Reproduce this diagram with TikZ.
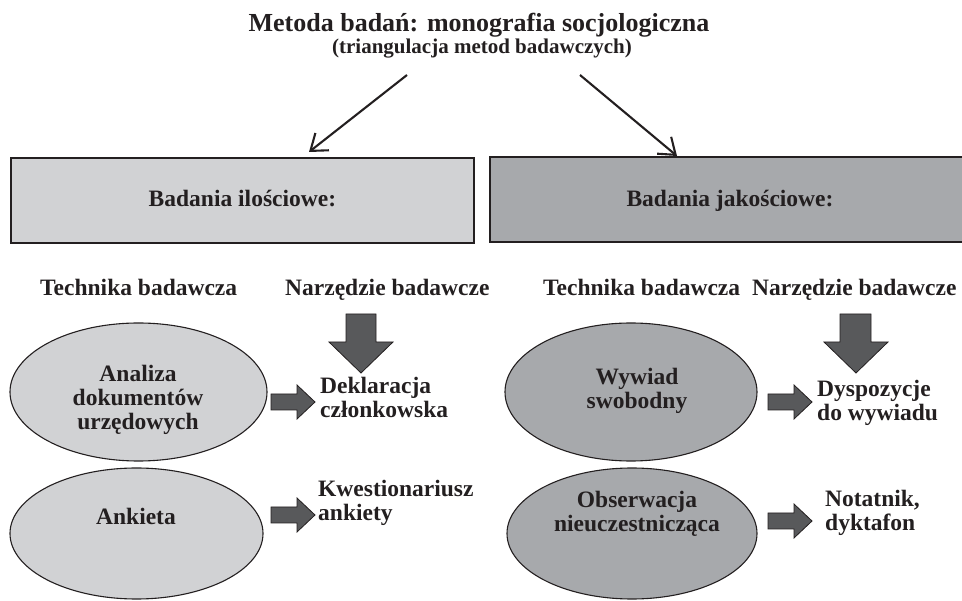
\documentclass[tikz,border=0pt]{standalone}
\usepackage{fontspec}
\setmainfont{Liberation Serif}
\usetikzlibrary{shapes.geometric,shapes.arrows,arrows.meta}
\definecolor{lightbox}{HTML}{D1D2D4}
\definecolor{darkbox}{HTML}{A7A9AC}
\definecolor{blockfill}{HTML}{58595B}
\definecolor{inkc}{HTML}{231F20}
\tikzset{
  txt/.style={font=\fontsize{23.5}{24}\selectfont\bfseries, text=inkc, inner sep=0pt},
  mbox/.style={draw=inkc, line width=1.8pt, anchor=north west, inner sep=0pt},
  ell/.style={ellipse, draw=inkc, line width=1.1pt, inner sep=0pt},
  thin arrow/.style={draw=inkc, line width=2.1pt, -{Straight Barb[length=15pt,width=22pt,line width=2.1pt]}},
  rblock/.style={fill=blockfill, draw=inkc, line width=0.8pt},
}
\begin{document}
\begin{tikzpicture}[x=1pt,y=-1pt]
\useasboundingbox (0,0) rectangle (962,601);
% title
\node[txt, font=\fontsize{26}{28}\selectfont\bfseries, anchor=base] (title) at (479,32) {Metoda badań: monografia socjologiczna};
\node[txt, font=\fontsize{21}{24}\selectfont\bfseries, anchor=base] (sub) at (482,54) {(triangulacja metod badawczych)};
\coordinate (la) at (407,75);
\coordinate (ra) at (580,75);
% boxes
\node[mbox, fill=lightbox, minimum width=463pt, minimum height=85pt] (qbox) at (10,157) {};
\node[txt, anchor=base] (qtxt) at (qbox.center |- 0,207) {Badania ilościowe:};
\fill[darkbox] (490,157) rectangle (962,242);
\draw[inkc, line width=1.8pt] (963,157) -- (490,157) -- (490,242) -- (963,242);
\coordinate (jbox) at (677,156);
\node[txt, anchor=base] (jtxt) at (730,207) {Badania jakościowe:};
\draw[thin arrow] (la) -- (309,152);
\draw[thin arrow] (ra) -- (jbox);
% column headers
\node[txt, anchor=base west] (tech1) at (40,296) {Technika badawcza};
\node[txt, anchor=base west] (narz1) at (285,296) {Narzędzie badawcze};
\node[txt, anchor=base west] (tech2) at (543,296) {Technika badawcza};
\node[txt, anchor=base west] (narz2) at (752,296) {Narzędzie badawcze};
% big down arrows
\draw[rblock] (346,314) -- (376,314) -- (376,342) -- (393,342) -- (361,373) -- (329,342) -- (346,342) -- cycle;
\draw[rblock] (840,314) -- (871,314) -- (871,342) -- (888,342) -- (856,373) -- (824,342) -- (840,342) -- cycle;
% ellipses
\node[ell, fill=lightbox, minimum width=257pt, minimum height=138pt] (e1) at (138.5,392) {};
\node[txt, align=center] (e1t) at (138,400) {Analiza\\dokumentów\\urzędowych};
\node[ell, fill=lightbox, minimum width=253pt, minimum height=131pt] (e2) at (136.5,533.5) {};
\node[txt, anchor=base] (e2t) at (136,525) {Ankieta};
\node[ell, fill=darkbox, minimum width=252pt, minimum height=138pt] (e3) at (631,392) {};
\node[txt, align=center] (e3t) at (637,391) {Wywiad\\swobodny};
\node[ell, fill=darkbox, minimum width=250pt, minimum height=131pt] (e4) at (632,533.5) {};
\node[txt, align=center] (e4t) at (637,514) {Obserwacja\\nieuczestnicząca};
% tools
\node[txt, align=left, anchor=north west] (n1) at (320,377) {Deklaracja\\członkowska};
\node[txt, align=left, anchor=north west] (n2) at (318,480) {Kwestionariusz\\ankiety};
\node[txt, align=left, anchor=north west] (n3) at (817,380) {Dyspozycje\\do wywiadu};
\node[txt, align=left, anchor=north west] (n4) at (825,490) {Notatnik,\\dyktafon};
% small block arrows
\newcommand{\rarrow}[2]{\draw[rblock] (#1,#2-8) -- (#1+26,#2-8) -- (#1+26,#2-17) -- (#1+44,#2) -- (#1+26,#2+17) -- (#1+26,#2+8) -- (#1,#2+8) -- cycle;}
\rarrow{271}{402}
\rarrow{271}{515}
\rarrow{768}{402}
\rarrow{768}{521}
\end{tikzpicture}
\end{document}
